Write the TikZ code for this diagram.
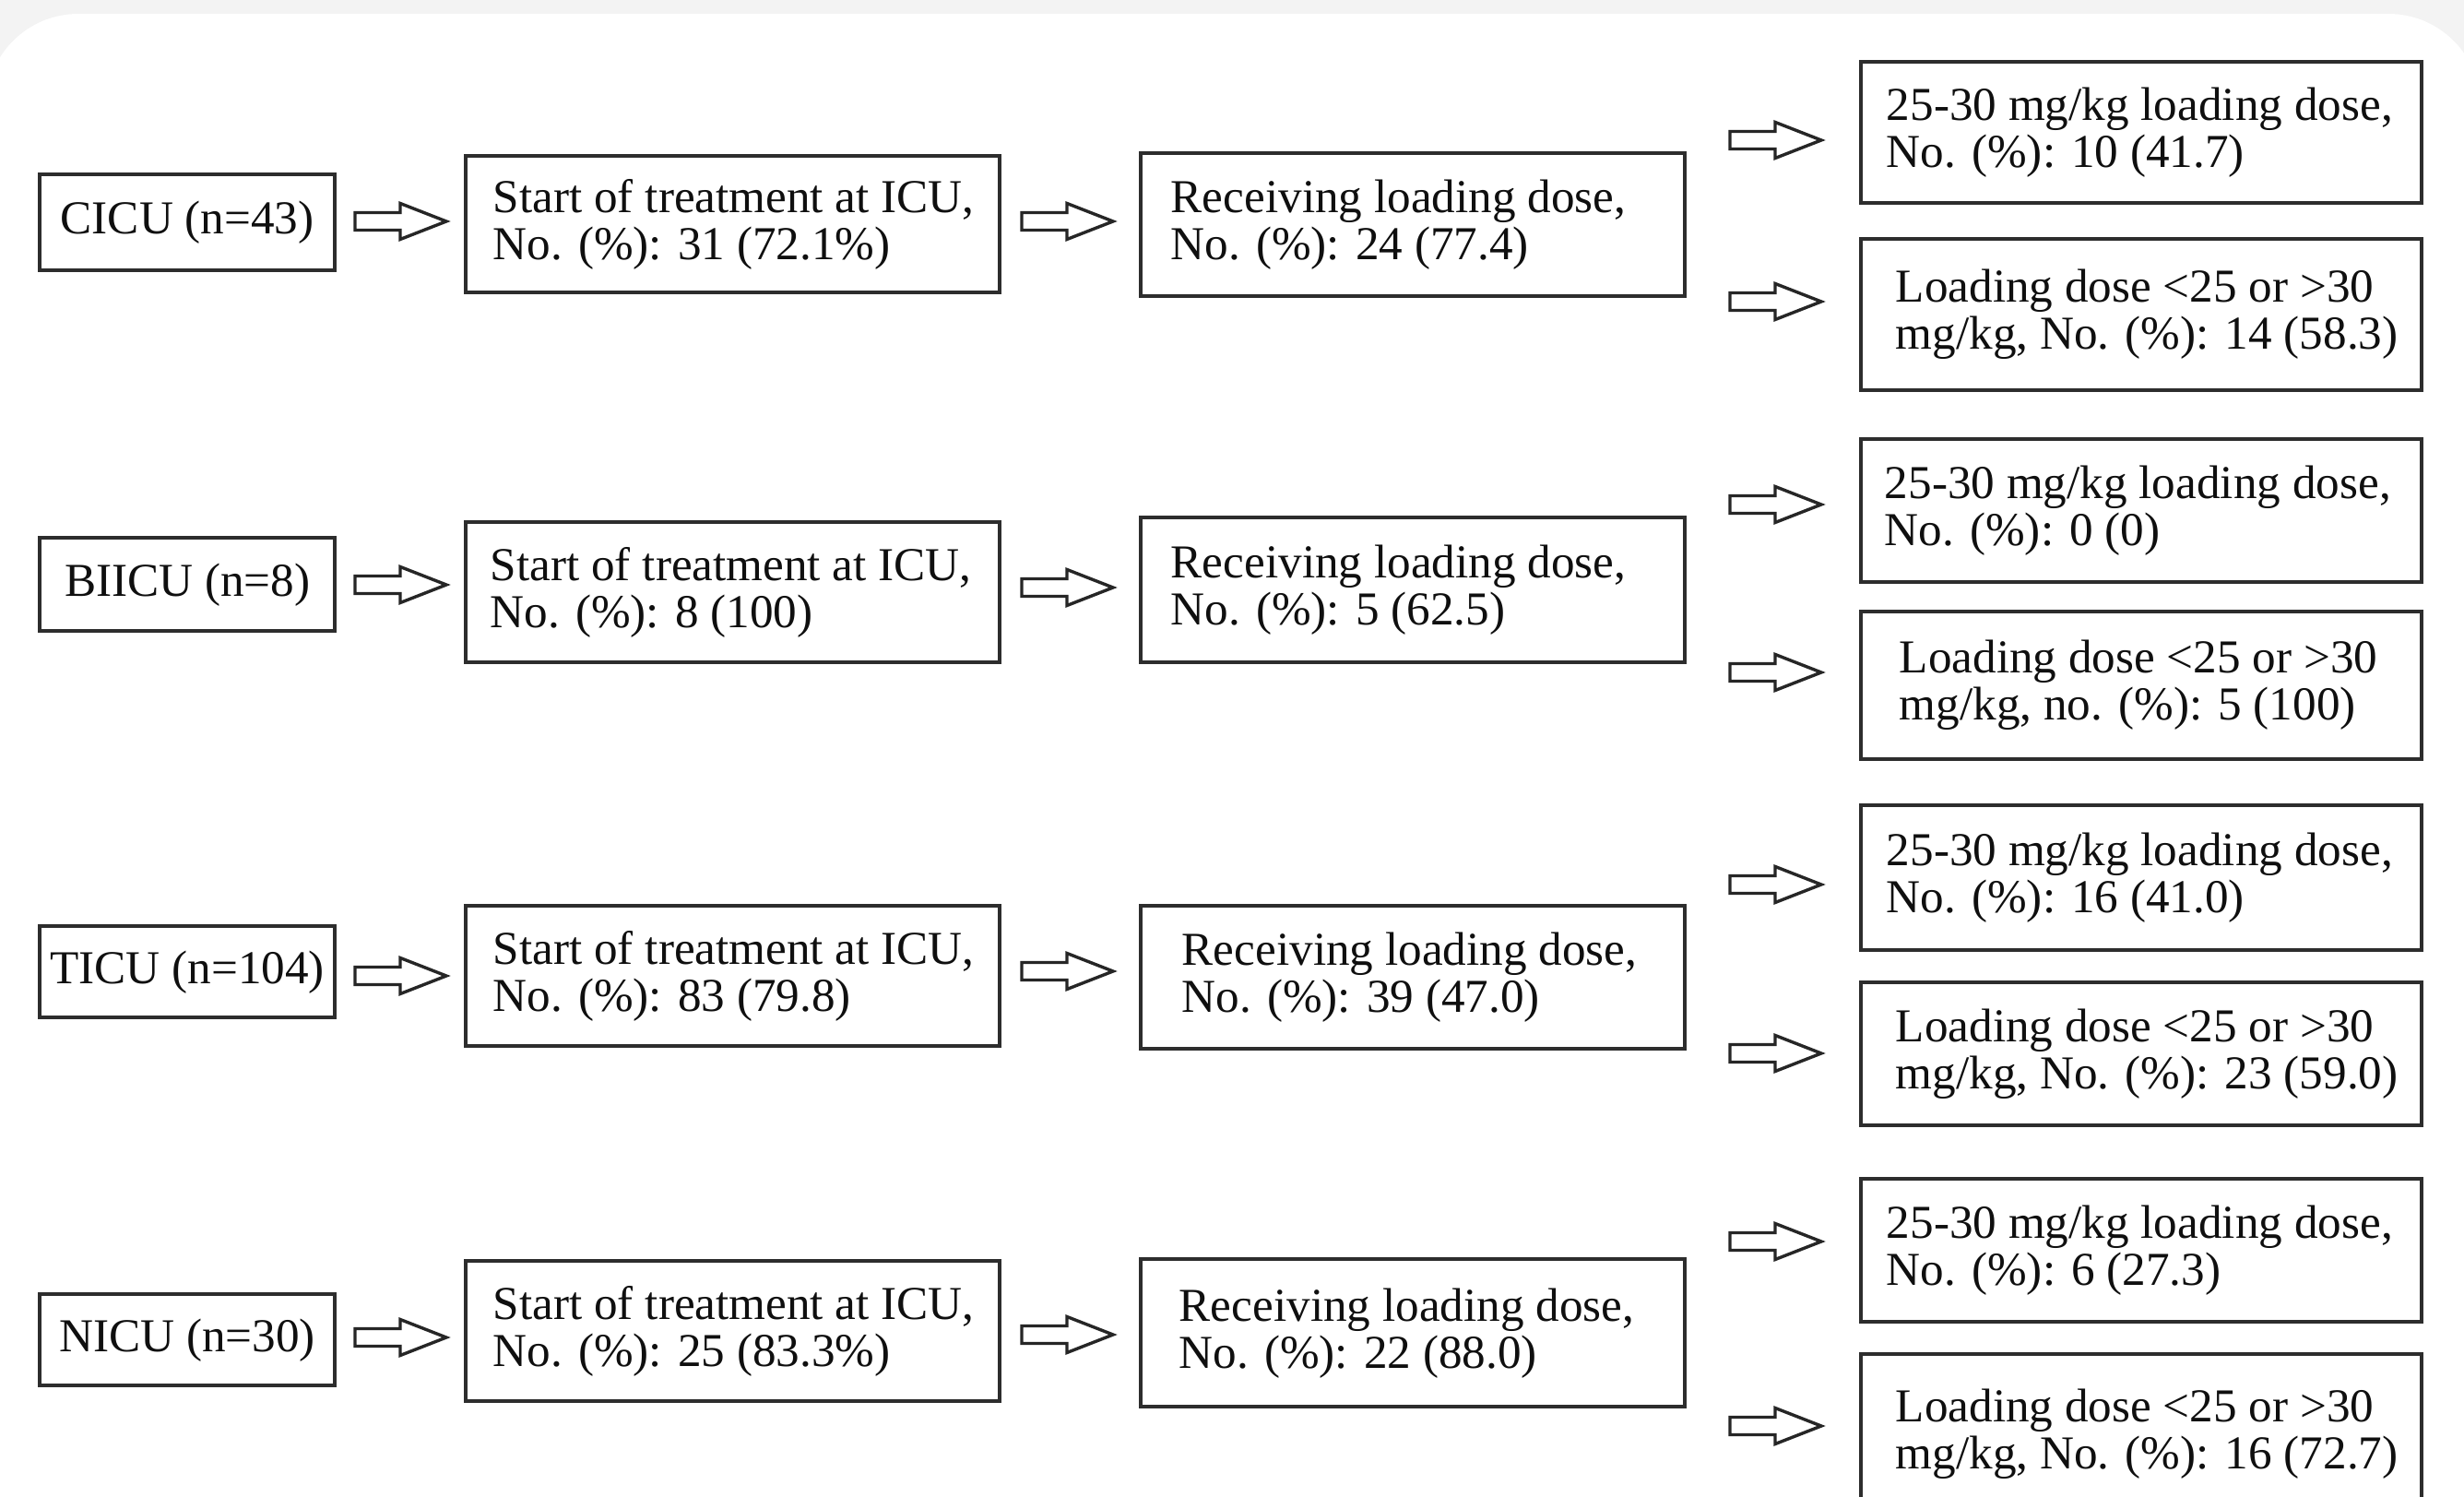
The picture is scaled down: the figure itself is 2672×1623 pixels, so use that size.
\documentclass[tikz,border=0pt]{standalone}
\usepackage{fontspec}
\setmainfont{Liberation Serif}
\definecolor{bggray}{RGB}{243,243,243}
\definecolor{boxline}{RGB}{45,45,45}
\definecolor{txtcol}{RGB}{15,15,15}
\begin{document}
\begin{tikzpicture}[x=0.25pt,y=-0.25pt,
  boxst/.style={draw=boxline, line width=1.1pt, fill=white, inner sep=0pt, anchor=north west},
  txtst/.style={font=\fontsize{12.8pt}{12.75pt}\selectfont, text=txtcol, align=left, inner sep=0pt, anchor=west},
  ctxt/.style={font=\fontsize{12.8pt}{12.75pt}\selectfont, text=txtcol, align=center, inner sep=0pt},
  arrowline/.style={draw=black!85, line width=0.85pt, fill=white, line join=miter},
  barrow/.pic={\draw[arrowline] (0,-9.5) -- (49,-9.5) -- (49,-19.5) -- (99,0) -- (49,19.5) -- (49,9.5) -- (0,9.5) -- cycle;}
]
\useasboundingbox (0,0) rectangle (2672,1623);
\clip (0,0) rectangle (2672,1623);
\fill[bggray] (0,0) rectangle (2672,1623);
\fill[white, rounded corners=25pt] (-15,15) rectangle (2690,1720);

\newcommand\bx[7]{%
  \pgfmathsetmacro\myBW{(#4-#2)*0.25}%
  \pgfmathsetmacro\myBH{(#5-#3)*0.25}%
  \pgfmathsetmacro\myBI{#6*0.25}%
  \node[boxst, minimum width=\myBW pt, minimum height=\myBH pt] (#1) at (#2,#3) {};
  \node[txtst] (#1t) at ([xshift=\myBI pt]#1.west) {#7};}
\newcommand\cbx[6]{%
  \pgfmathsetmacro\myBW{(#4-#2)*0.25}%
  \pgfmathsetmacro\myBH{(#5-#3)*0.25}%
  \node[boxst, minimum width=\myBW pt, minimum height=\myBH pt] (#1) at (#2,#3) {};
  \node[ctxt] (#1t) at (#1.center) {#6};}

% column 1
\cbx{a1}{41}{187}{361}{291}{CICU (n=43)}
\cbx{a2}{41}{581}{361}{682}{BIICU (n=8)}
\cbx{a3}{41}{1002}{361}{1101}{TICU (n=104)}
\cbx{a4}{41}{1401}{361}{1500}{NICU (n=30)}

% column 2
\bx{b1}{503}{167}{1082}{315}{31}{Start of treatment at ICU,\\No. (\%): 31 (72.1\%)}
\bx{b2}{503}{564}{1082}{716}{28}{Start of treatment at ICU,\\No. (\%): 8 (100)}
\bx{b3}{503}{980}{1082}{1132}{31}{Start of treatment at ICU,\\No. (\%): 83 (79.8)}
\bx{b4}{503}{1365}{1082}{1517}{31}{Start of treatment at ICU,\\No. (\%): 25 (83.3\%)}

% column 3
\bx{c1}{1235}{164}{1825}{319}{34}{Receiving loading dose,\\No. (\%): 24 (77.4)}
\bx{c2}{1235}{559}{1825}{716}{34}{Receiving loading dose,\\No. (\%): 5 (62.5)}
\bx{c3}{1235}{980}{1825}{1135}{46}{Receiving loading dose,\\No. (\%): 39 (47.0)}
\bx{c4}{1235}{1363}{1825}{1523}{43}{Receiving loading dose,\\No. (\%): 22 (88.0)}

% column 4
\bx{d1}{2016}{65}{2624}{218}{29}{25-30 mg/kg loading dose,\\No. (\%): 10 (41.7)}
\bx{e1}{2016}{257}{2624}{421}{39}{Loading dose <25 or >30\\mg/kg, No. (\%): 14 (58.3)}
\bx{d2}{2016}{474}{2624}{629}{27}{25-30 mg/kg loading dose,\\No. (\%): 0 (0)}
\bx{e2}{2016}{661}{2624}{821}{43}{Loading dose <25 or >30\\mg/kg, no. (\%): 5 (100)}
\bx{d3}{2016}{871}{2624}{1028}{29}{25-30 mg/kg loading dose,\\No. (\%): 16 (41.0)}
\bx{e3}{2016}{1063}{2624}{1218}{39}{Loading dose <25 or >30\\mg/kg, No. (\%): 23 (59.0)}
\bx{d4}{2016}{1276}{2624}{1431}{29}{25-30 mg/kg loading dose,\\No. (\%): 6 (27.3)}
\bx{e4}{2016}{1466}{2624}{1640}{39}{Loading dose <25 or >30\\mg/kg, No. (\%): 16 (72.7)}

% block arrows
\pic (p1) at (385,240) {barrow};
\pic (p2) at (385,634) {barrow};
\pic (p3) at (385,1058) {barrow};
\pic (p4) at (385,1450) {barrow};
\pic (q1) at (1108,240) {barrow};
\pic (q2) at (1108,637) {barrow};
\pic (q3) at (1108,1053) {barrow};
\pic (q4) at (1108,1447) {barrow};
\pic (r1) at (1876,152) {barrow};
\pic (r2) at (1876,327) {barrow};
\pic (r3) at (1876,547) {barrow};
\pic (r4) at (1876,729) {barrow};
\pic (r5) at (1876,959) {barrow};
\pic (r6) at (1876,1142) {barrow};
\pic (r7) at (1876,1346) {barrow};
\pic (r8) at (1876,1546) {barrow};
\end{tikzpicture}
\end{document}
